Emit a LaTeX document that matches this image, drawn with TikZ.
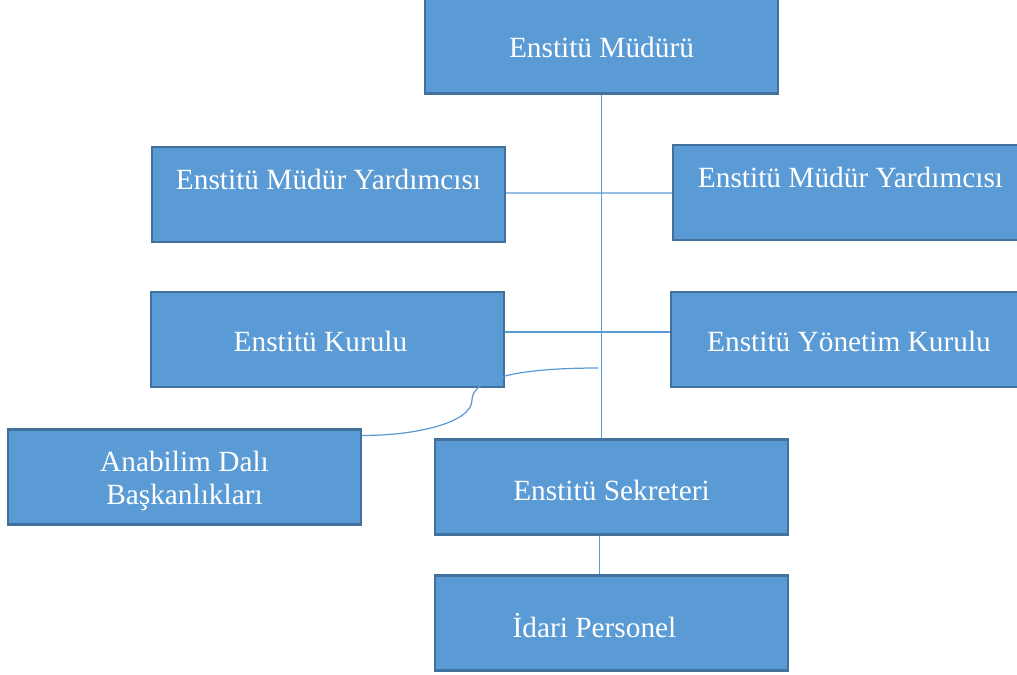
\documentclass[tikz,border=0pt]{standalone}
\usepackage{fontspec}
\setmainfont{Liberation Serif}
\definecolor{boxfill}{HTML}{5B9BD5}
\definecolor{boxline}{HTML}{41719C}
\definecolor{conn}{HTML}{5B9BD5}
\begin{document}
\begin{tikzpicture}[x=0.02cm,y=-0.02cm,
  orgbox/.style={draw=boxline, fill=boxfill, line width=1.3pt, minimum width=7.06cm, minimum height=1.9cm, inner sep=0pt},
  lbl/.style={text=white, font=\fontsize{16.7}{18.5}\selectfont, align=center, inner sep=0pt},
  link/.style={draw=conn, line width=0.7pt}]
\useasboundingbox (0,0) rectangle (1017,674);
% boxes
\node[orgbox] (mud) at (601.5,46) {};
\node[orgbox] (myl) at (328.5,194.5) {};
\node[orgbox] (myr) at (849.5,192.5) {};
\node[orgbox] (kur) at (327.5,339.5) {};
\node[orgbox] (yon) at (847.5,339.5) {};
\node[orgbox] (anab) at (184.5,477) {};
\node[orgbox] (sek) at (611.5,487) {};
\node[orgbox] (ida) at (611.5,623) {};
% connectors
\coordinate (j) at (598,368);
\draw[link] (mud.south) -- (mud.south |- sek.north);
\draw[link] ([yshift=0.03cm]myl.east) -- ([yshift=-0.01cm]myr.west);
\draw[link] ([yshift=0.15cm]kur.east) -- ([yshift=0.15cm]yon.west);
\draw[link] (j) .. controls (520,368) and (472,378) .. (472,400)
  .. controls (472,424) and (410,436) .. ([yshift=-0.14cm]anab.north east);
\draw[link] ([xshift=-0.24cm]sek.south) -- ([xshift=-0.24cm]sek.south |- ida.north);
% labels
\node[lbl] (tmud) at (601.5,47) {Enstitü Müdürü};
\node[lbl] (tmyl) at (328.5,179) {Enstitü Müdür Yardımcısı};
\node[lbl] (tmyr) at (850.5,177) {Enstitü Müdür Yardımcısı};
\node[lbl] (tkur) at (320.5,341) {Enstitü Kurulu};
\node[lbl] (tyon) at (849,341) {Enstitü Yönetim Kurulu};
\node[lbl] (tanab) at (184.5,481) {Anabilim Dalı\\Başkanlıkları};
\node[lbl] (tsek) at (611.5,490) {Enstitü Sekreteri};
\node[lbl] (tida) at (594.5,626) {İdari Personel};
\end{tikzpicture}
\end{document}
